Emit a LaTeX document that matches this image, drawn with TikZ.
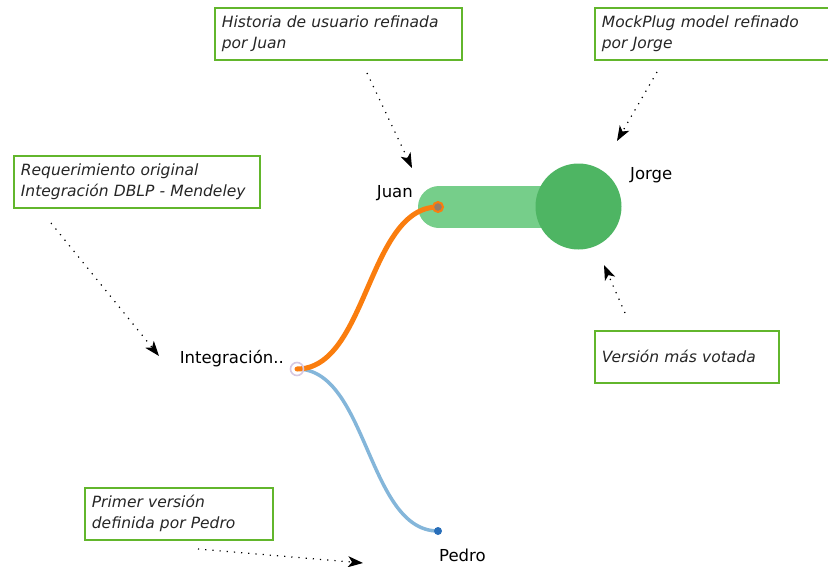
\documentclass[tikz,border=0pt]{standalone}
\usepackage{fontspec}
\setmainfont{DejaVu Sans}
\usetikzlibrary{arrows.meta}
\definecolor{notegreen}{RGB}{98,182,44}
\definecolor{barfill}{RGB}{118,206,138}
\definecolor{bigfill}{RGB}{78,181,99}
\definecolor{orangelink}{RGB}{250,125,14}
\definecolor{bluelink}{RGB}{132,182,218}
\definecolor{bluedot}{RGB}{40,110,185}
\definecolor{rootring}{RGB}{214,200,226}
\definecolor{juanfill}{RGB}{150,125,105}
\tikzset{
  note/.style 2 args={draw=notegreen, line width=1.8pt, fill=white, rectangle,
    anchor=north west, align=left, inner xsep=7pt, inner ysep=0pt,
    minimum width=#1, text width=#1-14pt, minimum height=#2,
    font=\fontsize{15.5}{21}\selectfont\itshape, text=black!85},
  lbl/.style={font=\fontsize{16.5}{20}\selectfont, text=black, inner sep=0pt},
  callout/.style={black, line width=1.2pt, dash pattern=on 1.2pt off 6pt,
    -{Stealth[length=15pt,width=11pt,inset=4pt]}},
  link/.style={line width=#1, line cap=round},
}
\begin{document}
\begin{tikzpicture}[x=1pt,y=-1pt]
\useasboundingbox (0,0) rectangle (828,566);

% annotation boxes
\node[note={247pt}{52pt}] (nJuan) at (214,7)
  {Historia de usuario refinada\\por Juan};
\node[note={234pt}{52pt}] (nJorge) at (594,7)
  {MockPlug model refinado\\por Jorge};
\node[note={246pt}{52pt}] (nReq) at (13,155)
  {Requerimiento original\\Integración DBLP - Mendeley};
\node[note={184pt}{52pt}] (nVot) at (594,330)
  {Versión más votada};
\node[note={188pt}{52pt}] (nPedro) at (84,487)
  {Primer versión\\definida por Pedro};

% version tree
\node[circle, fill=barfill, minimum size=42pt, inner sep=0pt] (juanend) at (439,207) {};
\fill[barfill] (439,186) rectangle (560,228);
\node[circle, fill=bigfill, minimum size=86pt, inner sep=0pt] (jorge) at (578.5,206.5) {};

\coordinate (root) at (297,369);
\coordinate (juan) at (438,207);
\coordinate (pedro) at (438,531);

\draw[bluelink, link=3.5pt] (root) .. controls (367.5,369) and (367.5,531) .. (pedro);
\draw[orangelink, link=5pt] (root) .. controls (367.5,369) and (367.5,207) .. (juan);

\node[circle, draw=rootring, line width=1.6pt, minimum size=13pt, inner sep=0pt] (rootnode) at (root) {};
\node[circle, draw=orangelink, fill=juanfill, line width=2pt, minimum size=10pt, inner sep=0pt] (juannode) at (juan) {};
\node[circle, fill=bluedot, minimum size=8pt, inner sep=0pt] (pedronode) at (pedro) {};

% labels
\node[lbl, anchor=east] (tJuan) at (413,193) {Juan};
\node[lbl, anchor=west] (tJorge) at (630,175) {Jorge};
\node[lbl, anchor=east] (tRoot) at (284,359) {Integración..};
\node[lbl, anchor=west] (tPedro) at (439,555) {Pedro};

% callout arrows
\coordinate (a1s) at (367,73);   \coordinate (a1e) at (412,168);
\coordinate (a2s) at (657,72);   \coordinate (a2e) at (617,141);
\coordinate (a3s) at (51,223);   \coordinate (a3e) at (159,356);
\coordinate (a4s) at (625,313);  \coordinate (a4e) at (604,265);
\coordinate (a5s) at (198,549);  \coordinate (a5e) at (363,563);
\draw[callout] (a1s) -- (a1e);
\draw[callout] (a2s) -- (a2e);
\draw[callout] (a3s) -- (a3e);
\draw[callout] (a4s) -- (a4e);
\draw[callout] (a5s) -- (a5e);
\end{tikzpicture}
\end{document}
